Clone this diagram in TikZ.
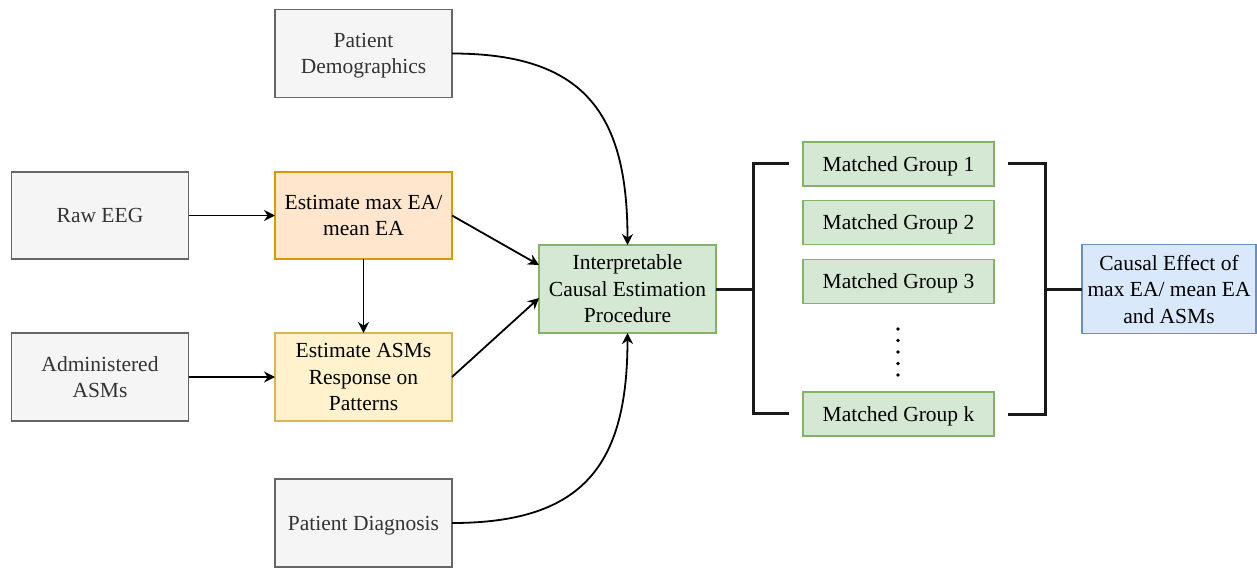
\documentclass[tikz,border=0pt]{standalone}
\usepackage{fontspec}
\setmainfont{Liberation Serif}
\usetikzlibrary{arrows.meta}
\definecolor{grayfill}{HTML}{F5F5F5}
\definecolor{graydraw}{HTML}{666666}
\definecolor{graytext}{HTML}{333333}
\definecolor{orfill}{HTML}{FFE6CC}
\definecolor{ordraw}{HTML}{D79B00}
\definecolor{yefill}{HTML}{FFF2CC}
\definecolor{yedraw}{HTML}{D6B656}
\definecolor{grfill}{HTML}{D5E8D4}
\definecolor{grdraw}{HTML}{82B366}
\definecolor{blfill}{HTML}{DAE8FC}
\definecolor{bldraw}{HTML}{6C8EBF}
\definecolor{brk}{HTML}{1A1A1A}
\tikzset{
  box/.style={rectangle, inner sep=0pt, outer sep=0pt, line width=1.7pt, align=center,
    text depth=0pt, font=\fontsize{21.5}{26.5}\selectfont},
  graybox/.style={box, fill=grayfill, draw=graydraw, text=graytext, minimum width=177pt, minimum height=88pt},
  orbox/.style={box, fill=orfill, draw=ordraw, minimum width=177pt, minimum height=87pt},
  yebox/.style={box, fill=yefill, draw=yedraw, minimum width=177pt, minimum height=88pt},
  grbox/.style={box, fill=grfill, draw=grdraw, minimum width=177pt, minimum height=88pt},
  mgbox/.style={box, fill=grfill, draw=grdraw, minimum width=191pt, minimum height=44pt},
  blbox/.style={box, fill=blfill, draw=bldraw, minimum width=174pt, minimum height=89pt},
  arr/.style={draw=black, line width=1.8pt, -{Stealth[length=11pt,width=11pt]}},
  bracket/.style={draw=brk, line width=3pt, line join=miter},
  dotmark/.style={circle, fill=black, inner sep=0pt, minimum size=3.6pt}
}
\begin{document}
\begin{tikzpicture}[x=1pt,y=-1pt]
\useasboundingbox (0,0) rectangle (1257,568);
% nodes
\node[graybox] (dem) at (363.5,53.5) {Patient\\Demographics};
\node[graybox, minimum height=87pt] (raw) at (100,215.5) {Raw EEG};
\node[orbox] (ema) at (363.5,215.5) {Estimate max EA/\\mean EA};
\node[graybox] (adm) at (100,377) {Administered\\ASMs};
\node[yebox] (asm) at (363.5,377) {Estimate ASMs\\Response on\\Patterns};
\node[graybox] (diag) at (363.5,523) {Patient Diagnosis};
\node[grbox] (icep) at (627.5,289) {Interpretable\\Causal Estimation\\Procedure};
\node[mgbox] (mg1) at (898.5,164) {Matched Group 1};
\node[mgbox] (mg2) at (898.5,222.5) {Matched Group 2};
\node[mgbox] (mg3) at (898.5,281.5) {Matched Group 3};
\node[mgbox] (mgk) at (898.5,414) {Matched Group k};
\node[blbox] (ce) at (1169,289) {Causal Effect of\\max EA/ mean EA\\and ASMs};
% dots
\foreach \i/\yy in {1/329,2/340.5,3/352,4/363.5,5/375}{
  \node[dotmark] (dot\i) at (898,\yy) {};
}
% arrows
\draw[arr] (raw.east) -- (ema.west);
\draw[arr] (adm.east) -- (asm.west);
\draw[arr] (ema.south) -- (asm.north);
\coordinate (inA) at (539,265);
\coordinate (inB) at (539,298);
\draw[arr] (ema.east) -- (inA);
\draw[arr] (asm.east) -- (inB);
\draw[arr] (dem.east) to[out=0,in=90,looseness=1.3] (icep.north);
\draw[arr] (diag.east) to[out=0,in=-90,looseness=1.3] (icep.south);
% left bracket
\coordinate (lm) at (753,289);
\coordinate (lt) at (753,163);
\coordinate (lb) at (753,413);
\coordinate (lte) at (789,163);
\coordinate (lbe) at (789,413);
\draw[bracket] (icep.east) -- (lm);
\draw[bracket] (lte) -- (lt) -- (lb) -- (lbe);
% right bracket
\coordinate (rts) at (1008,163);
\coordinate (rbs) at (1008,414);
\coordinate (rt) at (1045,163);
\coordinate (rb) at (1045,414);
\coordinate (rm) at (1045,289);
\draw[bracket] (rts) -- (rt) -- (rb) -- (rbs);
\draw[bracket] (rm) -- (ce.west);
\end{tikzpicture}
\end{document}
